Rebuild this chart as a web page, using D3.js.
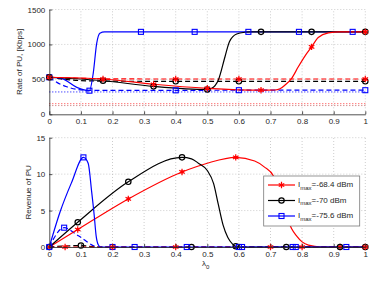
<!DOCTYPE html>
<html>
<head>
<meta charset="utf-8">
<script src="https://cdn.jsdelivr.net/npm/d3@7"></script>
<style>
  body { margin: 0; background: #fff; }
  text { font-family: "Liberation Sans", Arial, sans-serif; }
</style>
</head>
<body>
<svg id="chart"></svg>
<script>
// ticks
let xTicks = [0, 0.1, 0.2, 0.3, 0.4, 0.5, 0.6, 0.7, 0.8, 0.9, 1];
let rateTicks = [0, 500, 1000, 1500];
let revTicks = [0, 5, 10, 15];
let legendLabels = ['=-68.4 dBm', '=-70 dBm', '=-75.6 dBm'];

// rate of PU, solid lines
let redRateX = [0, 0.17, 0.33, 0.5, 0.67, 0.714, 0.73, 0.746, 0.767, 0.788, 0.81, 0.83, 0.851, 0.883, 0.92, 1];
let redRateY = [530, 505, 430, 372, 345, 348, 365, 419, 515, 680, 840, 965, 1100, 1165, 1180, 1180];
let redRateMarks = [0, 1, 2, 3, 4, 11, 15];

let blackRateX = [0, 0.17, 0.33, 0.5, 0.514, 0.535, 0.556, 0.57, 0.593, 0.62, 0.64, 0.67, 0.83, 1];
let blackRateY = [530, 480, 400, 355, 372, 490, 824, 1040, 1150, 1175, 1180, 1180, 1180, 1180];
let blackRateMarks = [0, 1, 2, 3, 11, 12, 13];

let blueRateX = [0, 0.04, 0.087, 0.127, 0.139, 0.15, 0.16, 0.175, 0.29, 0.46, 0.63, 0.79, 0.96, 1];
let blueRateY = [530, 510, 386, 338, 586, 1015, 1160, 1180, 1180, 1180, 1180, 1180, 1180, 1180];
let blueRateMarks = [0, 3, 8, 9, 10, 11, 12];

// rate of PU, dashed lines
let redRateDashX = [0, 0.1, 0.2, 0.4, 0.6, 1];
let redRateDashY = [530, 515, 507, 505, 505, 505];
let redRateDashMarks = [3, 4, 5];

let blackRateDashX = [0, 0.05, 0.1, 0.2, 0.4, 0.6, 1];
let blackRateDashY = [530, 500, 482, 474, 472, 472, 472];
let blackRateDashMarks = [4, 5, 6];

let blueRateDashX = [0, 0.024, 0.055, 0.087, 0.13, 0.4, 0.6, 1];
let blueRateDashY = [530, 457, 395, 357, 343, 343, 345, 345];
let blueRateDashMarks = [5, 6, 7];

// rate of PU, dotted lines
let dotX = [0, 1];
let blueRateDotY = [320, 320];
let redRateDotY = [152, 152];
let blackRateDotY = [125, 125];

// revenue of PU, solid lines
let redRevX = [0, 0.09, 0.25, 0.42, 0.5, 0.59, 0.65, 0.68, 0.71, 0.74, 0.767, 0.783, 0.8, 0.82, 0.86, 0.92, 1];
let redRevY = [0, 2.4, 6.6, 10.3, 11.5, 12.3, 11.8, 11.0, 9.7, 5.8, 2.5, 1.5, 0.7, 0.25, 0, 0, 0];
let redRevMarks = [0, 1, 2, 3, 5, 15];

let blackRevX = [0, 0.09, 0.25, 0.42, 0.45, 0.472, 0.5, 0.52, 0.535, 0.55, 0.565, 0.58, 0.59, 0.6, 0.75, 0.92, 1];
let blackRevY = [0, 3.4, 8.95, 12.3, 12.1, 11.5, 10.5, 8.7, 5.8, 3.0, 1.3, 0.4, 0.1, 0, 0, 0, 0];
let blackRevMarks = [0, 1, 2, 3, 12, 14, 15];

let blueRevX = [0, 0.034, 0.07, 0.108, 0.123, 0.134, 0.142, 0.148, 0.155, 0.162, 0.27, 0.435, 0.6, 0.77, 0.94, 1];
let blueRevY = [0, 4.8, 8.8, 12.3, 11.5, 7.6, 4.4, 1.6, 0.3, 0, 0, 0, 0, 0, 0, 0];
let blueRevMarks = [0, 3, 10, 11, 12, 13, 14];

// revenue of PU, dashed lines
let redRevDashX = [0, 0.05, 0.2, 0.4, 0.7, 0.8, 1];
let redRevDashY = [0, 0, 0, 0, 0, 0, 0];
let redRevDashMarks = [1, 2, 3, 4, 5, 6];

let blackRevDashX = [0, 0.1, 0.15, 0.45, 1];
let blackRevDashY = [0, 0.2, 0, 0, 0];
let blackRevDashMarks = [1, 3, 4];

let blueRevDashX = [0, 0.047, 0.092, 0.155, 0.2, 0.61, 0.78, 1];
let blueRevDashY = [0, 2.65, 1.55, 0, 0, 0, 0, 0];
let blueRevDashMarks = [1, 4, 5, 6];

const RED = '#ff0000', BLACK = '#000000', BLUE = '#0000ff';
const SOLID = null, DASH = '5,3', DOT = '1,2';

let rateSeries = [
  { x: dotX, y: redRateDotY, color: RED, dash: DOT, marks: [], opacity: 0.8 },
  { x: dotX, y: blackRateDotY, color: '#b04040', dash: DOT, marks: [], opacity: 0.8 },
  { x: dotX, y: blueRateDotY, color: BLUE, dash: DOT, marks: [] },
  { x: blueRateDashX, y: blueRateDashY, color: BLUE, dash: DASH, marks: blueRateDashMarks, marker: 'square' },
  { x: blackRateDashX, y: blackRateDashY, color: BLACK, dash: DASH, marks: blackRateDashMarks, marker: 'circle' },
  { x: redRateDashX, y: redRateDashY, color: RED, dash: DASH, marks: redRateDashMarks, marker: 'star' },
  { x: blueRateX, y: blueRateY, color: BLUE, dash: SOLID, marks: blueRateMarks, marker: 'square' },
  { x: blackRateX, y: blackRateY, color: BLACK, dash: SOLID, marks: blackRateMarks, marker: 'circle' },
  { x: redRateX, y: redRateY, color: RED, dash: SOLID, marks: redRateMarks, marker: 'star' },
];

let revSeries = [
  { x: blueRevDashX, y: blueRevDashY, color: BLUE, dash: DASH, marks: blueRevDashMarks, marker: 'square' },
  { x: blackRevDashX, y: blackRevDashY, color: BLACK, dash: DASH, marks: blackRevDashMarks, marker: 'circle' },
  { x: redRevDashX, y: redRevDashY, color: RED, dash: DASH, marks: redRevDashMarks, marker: 'star' },
  { x: redRevX, y: redRevY, color: RED, dash: SOLID, marks: redRevMarks, marker: 'star' },
  { x: blackRevX, y: blackRevY, color: BLACK, dash: SOLID, marks: blackRevMarks, marker: 'circle' },
  { x: blueRevX, y: blueRevY, color: BLUE, dash: SOLID, marks: blueRevMarks, marker: 'square' },
];

let width = 374, height = 281;
let svg = d3.select('#chart').attr('width', width).attr('height', height);

let x = d3.scaleLinear().domain([0, 1]).range([49.3, 365.3]);

function drawMarker(g, type, cx, cy, color) {
  if (type === 'circle') {
    g.append('circle').attr('cx', cx).attr('cy', cy).attr('r', 2.7)
      .attr('fill', 'none').attr('stroke', color).attr('stroke-width', 1.2);
  } else if (type === 'square') {
    g.append('rect').attr('x', cx - 2.5).attr('y', cy - 2.5).attr('width', 5).attr('height', 5)
      .attr('fill', 'none').attr('stroke', color).attr('stroke-width', 1.1);
  } else if (type === 'star') {
    g.append('path').attr('transform', `translate(${cx},${cy})`)
      .attr('d', d3.symbol(d3.symbolAsterisk, 28)())
      .attr('fill', 'none').attr('stroke', color).attr('stroke-width', 1.2);
    g.append('circle').attr('cx', cx).attr('cy', cy).attr('r', 1.6).attr('fill', color);
  }
}

function panel(series, y, yTicks, yLabel, labelX) {
  let g = svg.append('g');
  let [y0, y1] = y.range();

  // dotted grid
  g.append('g').selectAll('line').data(xTicks.slice(1)).join('line')
    .attr('x1', d => x(d)).attr('x2', d => x(d))
    .attr('y1', y0).attr('y2', y1)
    .attr('stroke', '#b8b8b8').attr('stroke-width', 0.7).attr('stroke-dasharray', '1,2');
  g.append('g').selectAll('line').data(yTicks.slice(1)).join('line')
    .attr('x1', x(0)).attr('x2', x(1))
    .attr('y1', d => y(d)).attr('y2', d => y(d))
    .attr('stroke', '#b8b8b8').attr('stroke-width', 0.7).attr('stroke-dasharray', '1,2');

  let line = d3.line().x(d => x(d[0])).y(d => y(d[1])).curve(d3.curveMonotoneX);

  series.forEach(s => {
    let pts = s.x.map((v, i) => [v, s.y[i]]);
    g.append('path').datum(pts)
      .attr('d', line)
      .attr('fill', 'none')
      .attr('stroke', s.color)
      .attr('stroke-width', s.dash === DOT ? 1 : 1.2)
      .attr('stroke-opacity', s.opacity || 1)
      .attr('stroke-dasharray', s.dash);
  });
  series.forEach(s => {
    s.marks.forEach(i => drawMarker(g, s.marker, x(s.x[i]), y(s.y[i]), s.color));
  });

  let xAxis = d3.axisBottom(x).tickValues(xTicks).tickFormat(d3.format('~g'))
    .tickSizeInner(-3).tickSizeOuter(0).tickPadding(4);
  let yAxis = d3.axisLeft(y).tickValues(yTicks).tickFormat(d3.format('~g'))
    .tickSizeInner(-3).tickSizeOuter(0).tickPadding(4);

  let gx = g.append('g').attr('transform', `translate(0,${y0})`).call(xAxis);
  let gy = g.append('g').attr('transform', `translate(${x(0)},0)`).call(yAxis);
  [gx, gy].forEach(a => {
    a.selectAll('path,line').attr('stroke', '#262626').attr('stroke-width', 0.8);
    a.selectAll('text').attr('font-size', 8).attr('fill', '#262626')
      .attr('font-family', '"Liberation Sans", Arial, sans-serif');
  });

  g.append('text')
    .attr('transform', `translate(${labelX},${(y0 + y1) / 2}) rotate(-90)`)
    .attr('text-anchor', 'middle').attr('font-size', 8).attr('fill', '#262626')
    .text(yLabel);
}

let yRate = d3.scaleLinear().domain([0, 1500]).range([114.3, 9.5]);
let yRev = d3.scaleLinear().domain([0, 15]).range([247, 137.7]);

panel(rateSeries, yRate, rateTicks, 'Rate of PU, [Kbps]', 22);
panel(revSeries, yRev, revTicks, 'Revenue of PU', 31);

// x label
let xl = svg.append('text').attr('x', 202).attr('y', 266).attr('font-size', 8).attr('fill', '#262626');
xl.append('tspan').text('λ');
xl.append('tspan').attr('dy', 2.5).attr('font-size', 6).text('0');

// legend
let legendColors = [RED, BLACK, BLUE];
let legendMarkers = ['star', 'circle', 'square'];
let leg = svg.append('g');
leg.append('rect').attr('x', 263.7).attr('y', 176).attr('width', 96).attr('height', 50)
  .attr('fill', '#fff').attr('stroke', '#7a7a7a').attr('stroke-width', 0.8);
legendLabels.forEach((lab, i) => {
  let ly = 185 + i * 15.5;
  leg.append('line').attr('x1', 268).attr('x2', 295).attr('y1', ly).attr('y2', ly)
    .attr('stroke', legendColors[i]).attr('stroke-width', 1.2);
  drawMarker(leg, legendMarkers[i], 281.5, ly, legendColors[i]);
  let t = leg.append('text').attr('x', 298).attr('y', ly + 2).attr('font-size', 8).attr('fill', '#262626');
  t.append('tspan').text('I');
  t.append('tspan').attr('dy', 2.5).attr('font-size', 6).text('max');
  t.append('tspan').attr('dy', -2.5).text(lab);
});
</script>
</body>
</html>
